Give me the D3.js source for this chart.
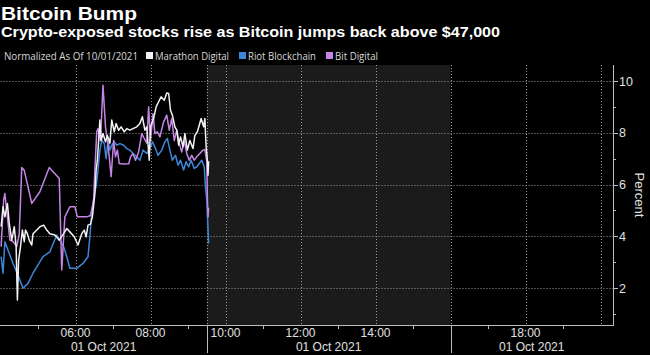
<!DOCTYPE html>
<html lang="en">
  <head>
    <meta charset="UTF-8" />
    <title>Bitcoin Bump</title>
    <style>
      body {
        margin: 0;
        background: #000;
      }
      svg {
        display: block;
        font-family: "Open Sans", sans-serif;
      }
      .grid line {
        stroke: #9a9a9a;
        stroke-width: 1;
        stroke-dasharray: 1, 2;
      }
      .series {
        fill: none;
        stroke-width: 1.5;
        stroke-linejoin: round;
      }
      .axis-text,
      .title {
        font-family: "Liberation Sans", Arial, sans-serif;
      }
    </style>
  </head>
  <body>
    <div id="container"></div>
  </body>
  <script src="https://cdnjs.cloudflare.com/ajax/libs/d3/7.1.1/d3.min.js"></script>
  <script>
    // series (time of day, percent)
    const marathonTimes = ["04:01","04:04","04:07","04:11","04:14","04:18","04:22","04:25","04:27","04:29","04:32","04:35","04:38","04:40","04:43","04:46","04:50","04:52","04:58","05:03","05:09","05:14","05:19","05:27","05:34","05:41","05:46","05:51","05:58","06:04","06:10","06:14","06:17","06:20","06:24","06:27","06:31","06:33","06:35","06:37","06:39","06:41","06:44","06:48","06:51","06:55","06:58","07:02","07:05","07:09","07:13","07:18","07:22","07:27","07:32","07:38","07:43","07:47","07:51","07:54","07:58","08:00","08:05","08:09","08:13","08:17","08:22","08:26","08:29","08:32","08:35","08:39","08:42","08:45","08:48","08:52","08:55","08:59","09:03","09:08","09:11","09:15","09:18","09:21","09:25","09:27","09:29","09:31","09:32","09:33"];
    const marathonValues = [4.37,5.14,4.75,5.27,4.5,3.85,4.37,3.6,1.54,3.08,3.6,4.24,3.79,4.24,4.1,3.85,3.66,4.1,4.24,4.37,4.43,4.24,4.1,4.05,3.85,4.1,4.3,4.17,3.98,3.66,4.1,4.24,3.98,4.43,4.47,4.75,5.65,6.56,6.94,7.7,8.49,7.7,7.97,7.65,7.9,7.6,8.49,8.04,8.36,8.1,8.23,8.04,8.16,8.1,8.16,8.23,8.36,8.62,8.1,8.23,6.94,8.23,8.55,9.0,9.2,9.39,9.26,9.54,9.52,8.87,8.68,8.23,8.1,7.52,7.84,7.46,7.97,7.33,7.7,7.39,7.9,8.04,8.29,8.55,8.23,8.55,7.46,6.94,6.36,6.9];

    const riotTimes = ["04:01","04:04","04:07","04:13","04:20","04:29","04:36","04:44","04:52","05:00","05:08","05:19","05:30","05:35","05:41","05:46","05:51","06:02","06:12","06:20","06:23","06:26","06:30","06:33","06:36","06:39","06:42","06:46","06:49","06:52","06:55","06:58","07:02","07:06","07:11","07:17","07:22","07:27","07:32","07:38","07:43","07:48","07:54","07:59","08:03","08:08","08:12","08:18","08:23","08:27","08:31","08:35","08:40","08:44","08:48","08:53","08:57","09:01","09:05","09:10","09:14","09:18","09:22","09:26","09:28","09:30","09:32","09:33"];
    const riotValues = [3.21,2.57,3.79,3.4,2.95,2.44,1.99,2.18,2.57,2.89,3.21,3.4,4.05,3.85,3.6,3.21,2.76,2.76,2.95,3.21,3.98,4.88,5.65,5.91,6.56,7.33,7.71,7.58,7.0,7.71,7.33,7.52,7.65,7.52,7.58,7.52,7.39,7.33,7.2,7.07,6.94,7.33,7.2,7.39,7.65,7.39,7.13,7.33,7.65,7.78,7.33,6.94,7.13,6.75,6.94,6.56,6.88,6.68,6.94,6.62,6.68,6.81,6.94,6.68,5.91,5.4,4.3,3.72];

    const bitTimes = ["04:01","04:05","04:07","04:11","04:15","04:20","04:26","04:30","04:34","04:38","04:50","05:03","05:18","05:34","05:38","05:43","05:51","05:59","06:03","06:18","06:24","06:29","06:31","06:34","06:36","06:40","06:44","06:48","06:51","06:54","06:57","07:01","07:04","07:07","07:10","07:17","07:25","07:28","07:32","07:36","07:41","07:46","07:50","07:54","07:57","08:00","08:04","08:07","08:11","08:15","08:21","08:26","08:30","08:34","08:38","08:42","08:46","08:50","08:54","08:58","09:02","09:06","09:10","09:14","09:19","09:24","09:27","09:30","09:31","09:32","09:33"];
    const bitValues = [3.6,5.4,5.65,4.75,3.85,3.8,3.6,4.1,6.66,6.55,5.27,5.72,6.66,6.23,2.7,4.75,5.14,5.14,4.75,4.75,4.8,5.4,6.55,8.04,8.16,7.7,9.84,8.23,7.7,7.07,6.3,7.7,7.07,7.33,6.81,6.79,6.8,7.07,7.2,6.94,7.26,7.97,7.78,7.6,9.0,7.7,8.74,7.97,8.04,7.84,8.42,8.68,8.1,8.55,7.7,8.1,7.6,7.26,7.7,7.2,6.94,7.13,6.94,7.07,7.2,7.33,7.35,6.9,5.5,4.75,5.1];

    const seriesNames = ["Marathon Digital", "Riot Blockchain", "Bit Digital"];
    const seriesColors = ["#f2f2f2", "#3f86d8", "#c585e6"];

    const xTickLabels = ["06:00", "08:00", "10:00", "12:00", "14:00", "18:00"];
    const xGridTimes = ["06:00", "08:00", "10:00", "12:00", "14:00", "16:00", "18:00", "20:00"];
    const xMinorTimes = ["05:00", "07:00", "09:00", "11:00", "13:00", "15:00", "17:00", "19:00"];
    const sessionBreaks = ["09:30", "16:00"];
    const dateLabel = "01 Oct 2021";
    const yTicks = [2, 4, 6, 8, 10];
    const yMinorTicks = [1, 3, 5, 7, 9];

    const width = 650,
      height = 355,
      plotLeft = 0.5,
      plotRight = 613,
      plotTop = 65,
      plotBottom = 325;

    const parse = d3.timeParse("%H:%M");

    const x = d3
      .scaleTime()
      .domain([parse("04:00"), parse("20:20")])
      .range([plotLeft, plotRight]);
    const y = d3.scaleLinear().domain([0.57, 10.62]).range([plotBottom, plotTop]);

    const svg = d3
      .select("#container")
      .append("svg")
      .attr("width", width)
      .attr("height", height);

    svg.append("rect").attr("width", width).attr("height", height).attr("fill", "#000");

    // titles
    svg.append("text")
      .attr("class", "title")
      .text("Bitcoin Bump")
      .attr("x", 1)
      .attr("y", 20)
      .attr("fill", "#fff")
      .attr("font-size", 19)
      .attr("font-weight", 700)
      .attr("textLength", 136)
      .attr("lengthAdjust", "spacingAndGlyphs");
    svg.append("text")
      .attr("class", "title")
      .text("Crypto-exposed stocks rise as Bitcoin jumps back above $47,000")
      .attr("x", 1)
      .attr("y", 37)
      .attr("fill", "#fff")
      .attr("font-size", 14)
      .attr("font-weight", 700)
      .attr("textLength", 499)
      .attr("lengthAdjust", "spacingAndGlyphs");

    // legend
    const legend = svg.append("g").attr("font-size", 11).attr("fill", "#d8d8d8");
    legend.append("text")
      .text("Normalized As Of 10/01/2021")
      .attr("x", 4)
      .attr("y", 60)
      .attr("textLength", 134)
      .attr("lengthAdjust", "spacingAndGlyphs");
    const legendX = [146, 239, 326];
    const legendW = [74, 68, 43];
    seriesNames.forEach((name, i) => {
      legend.append("rect")
        .attr("x", legendX[i])
        .attr("y", 52)
        .attr("width", 7)
        .attr("height", 7)
        .attr("fill", seriesColors[i]);
      legend.append("text")
        .text(name)
        .attr("x", legendX[i] + 9)
        .attr("y", 60)
        .attr("textLength", legendW[i])
        .attr("lengthAdjust", "spacingAndGlyphs");
    });

    // shaded out-of-session block
    svg.append("rect")
      .attr("x", x(parse(sessionBreaks[0])))
      .attr("y", plotTop)
      .attr("width", x(parse(sessionBreaks[1])) - x(parse(sessionBreaks[0])))
      .attr("height", plotBottom - plotTop)
      .attr("fill", "#1b1b1b");

    // grid
    const grid = svg.append("g").attr("class", "grid");
    grid.selectAll(".h")
      .data(yTicks)
      .join("line")
      .attr("x1", plotLeft)
      .attr("x2", plotRight)
      .attr("y1", (d) => Math.round(y(d)) + 0.5)
      .attr("y2", (d) => Math.round(y(d)) + 0.5);
    grid.selectAll(".v")
      .data(xGridTimes.concat(sessionBreaks))
      .join("line")
      .attr("x1", (d) => Math.round(x(parse(d))) + 0.5)
      .attr("x2", (d) => Math.round(x(parse(d))) + 0.5)
      .attr("y1", plotTop)
      .attr("y2", plotBottom);

    // lines
    const line = d3
      .line()
      .x((d) => x(d[0]))
      .y((d) => y(d[1]));
    const allSeries = [
      [riotTimes, riotValues, 1],
      [bitTimes, bitValues, 2],
      [marathonTimes, marathonValues, 0],
    ];
    allSeries.forEach(([times, values, ci]) => {
      const pts = times.map((t, i) => [parse(t), values[i]]);
      svg.append("path")
        .attr("class", "series")
        .attr("stroke", seriesColors[ci])
        .attr("d", line(pts));
    });

    // axes
    const axisColor = "#bdbdbd";
    svg.append("line")
      .attr("x1", 0)
      .attr("x2", plotRight + 0.5)
      .attr("y1", plotBottom + 0.5)
      .attr("y2", plotBottom + 0.5)
      .attr("stroke", axisColor);
    svg.append("line")
      .attr("x1", plotRight + 0.5)
      .attr("x2", plotRight + 0.5)
      .attr("y1", plotTop)
      .attr("y2", plotBottom + 1)
      .attr("stroke", axisColor);

    svg.selectAll(".xminor")
      .data(xMinorTimes)
      .join("line")
      .attr("x1", (d) => Math.round(x(parse(d))) + 0.5)
      .attr("x2", (d) => Math.round(x(parse(d))) + 0.5)
      .attr("y1", plotBottom + 1)
      .attr("y2", plotBottom + 4)
      .attr("stroke", axisColor);

    svg.selectAll(".sep")
      .data(sessionBreaks)
      .join("line")
      .attr("x1", (d) => Math.round(x(parse(d))) + 0.5)
      .attr("x2", (d) => Math.round(x(parse(d))) + 0.5)
      .attr("y1", plotBottom)
      .attr("y2", 353)
      .attr("stroke", axisColor);

    const xText = svg.append("g")
      .attr("class", "axis-text")
      .attr("fill", "#e0e0e0")
      .attr("font-size", 12)
      .attr("text-anchor", "middle");
    xText.selectAll("text.t")
      .data(xTickLabels)
      .join("text")
      .attr("x", (d) => x(parse(d)))
      .attr("y", 337)
      .text((d) => d);
    const sessionEdges = [plotLeft, x(parse(sessionBreaks[0])), x(parse(sessionBreaks[1])), plotRight];
    xText.selectAll("text.d")
      .data(d3.range(3))
      .join("text")
      .attr("x", (i) => (sessionEdges[i] + sessionEdges[i + 1]) / 2)
      .attr("y", 351)
      .text(dateLabel);

    // y ticks on the right
    svg.selectAll(".ymaj")
      .data(yTicks)
      .join("line")
      .attr("x1", plotRight)
      .attr("x2", plotRight + 5)
      .attr("y1", (d) => Math.round(y(d)) + 0.5)
      .attr("y2", (d) => Math.round(y(d)) + 0.5)
      .attr("stroke", axisColor);
    svg.selectAll(".ymin")
      .data(yMinorTicks)
      .join("line")
      .attr("x1", plotRight)
      .attr("x2", plotRight + 3)
      .attr("y1", (d) => Math.round(y(d)) + 0.5)
      .attr("y2", (d) => Math.round(y(d)) + 0.5)
      .attr("stroke", axisColor);
    svg.append("g")
      .attr("class", "axis-text")
      .attr("fill", "#e0e0e0")
      .attr("font-size", 12.5)
      .selectAll("text")
      .data(yTicks)
      .join("text")
      .attr("x", plotRight + 6)
      .attr("y", (d) => y(d) + 4.5)
      .text((d) => d);

    svg.append("text")
      .attr("class", "axis-text")
      .text("Percent")
      .attr("fill", "#e0e0e0")
      .attr("font-size", 13)
      .attr("text-anchor", "middle")
      .attr("transform", `translate(635,195) rotate(90)`);
  </script>
</html>
